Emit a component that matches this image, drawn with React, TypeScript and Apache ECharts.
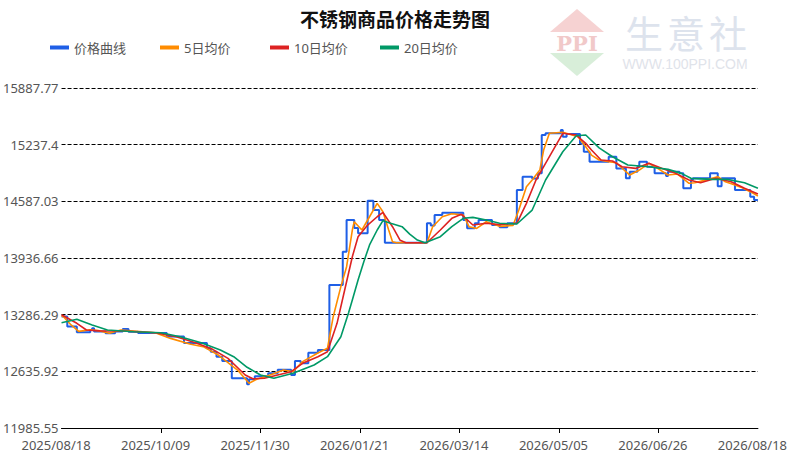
import React, { useEffect, useRef } from "react";
import * as echarts from "echarts";

// ---- data ----
const xLabels = [
  "2025/08/18",
  "2025/10/09",
  "2025/11/30",
  "2026/01/21",
  "2026/03/14",
  "2026/05/05",
  "2026/06/26",
  "2026/08/18",
];
const dayStep = 52; // days between two x labels
const yTicks = [11985.55, 12635.92, 13286.29, 13936.66, 14587.03, 15237.4, 15887.77];
const seriesNames = ["价格曲线", "5日均价", "10日均价", "20日均价"];

// price curve: [day index, price] at each change (step line)
const price: [number, number][] = [
  [0, 13265], [3, 13150], [8, 13085], [15, 13110], [16, 13130], [17, 13092],
  [23, 13073], [28, 13092], [32, 13122], [35, 13090], [40, 13076], [55, 13035],
  [64, 12960], [76, 12900], [78, 12861], [81, 12804], [84, 12755], [89, 12556],
  [97, 12487], [98, 12545], [101, 12580], [108, 12613], [113, 12655], [120, 12594],
  [122, 12755], [125, 12730], [129, 12850], [134, 12880], [140, 13627], [147, 14009],
  [149, 14372], [153, 14280], [155, 14222], [160, 14594], [163, 14487], [166, 14372],
  [169, 14112], [191, 14335], [193, 14310], [195, 14430], [199, 14456], [210, 14372],
  [212, 14277], [216, 14335], [218, 14372], [225, 14315], [229, 14289], [233, 14335],
  [238, 14717], [241, 14870], [246, 14850], [249, 14908], [251, 15348], [253, 15368],
  [261, 15406], [262, 15329], [264, 15360], [271, 15250], [273, 15156], [276, 15042],
  [286, 15099], [290, 14965], [295, 14851], [297, 14927], [301, 14984], [302, 15042],
  [306, 14984], [310, 14908], [316, 14877], [317, 14927], [323, 14908], [325, 14737],
  [329, 14832], [330, 14851], [339, 14908], [343, 14760], [345, 14851], [352, 14717],
  [360, 14640], [362, 14603], [364, 14603],
];

const ma5: [number, number][] = [
  [0, 13270], [1, 13263], [5, 13168], [9, 13095], [15, 13114], [20, 13100], [25, 13073],
  [31, 13110], [49, 13079], [57, 13014], [67, 12950], [74, 12919], [82, 12823],
  [92, 12651], [98, 12500], [102, 12544], [109, 12594], [116, 12651], [121, 12632],
  [126, 12747], [134, 12846], [139, 12900], [142, 13263], [146, 13608], [149, 13837],
  [152, 14258], [153, 14353], [157, 14258], [161, 14410], [165, 14564], [168, 14468],
  [171, 14258], [173, 14124], [175, 14112], [191, 14112], [194, 14296], [199, 14410],
  [204, 14445], [210, 14430], [213, 14296], [217, 14277], [222, 14353], [229, 14300],
  [236, 14310], [239, 14487], [243, 14755], [246, 14832], [250, 14946], [252, 15176],
  [255, 15368], [262, 15380], [270, 15329], [274, 15214], [277, 15118], [281, 15061],
  [286, 15042], [290, 15030], [295, 14927], [297, 14889], [302, 14946], [307, 15023],
  [312, 14960], [317, 14889], [322, 14900], [328, 14794], [331, 14800], [338, 14839],
  [343, 14870], [347, 14812], [352, 14774], [355, 14750], [360, 14698], [364, 14648],
];

const ma10: [number, number][] = [
  [0, 13285], [8, 13187], [13, 13110], [20, 13100], [32, 13099], [49, 13079],
  [60, 13033], [70, 12964], [79, 12888], [87, 12785], [96, 12594], [100, 12550],
  [106, 12556], [113, 12594], [120, 12632], [126, 12728], [134, 12804], [139, 12861],
  [144, 13187], [148, 13570], [152, 13951], [155, 14181], [160, 14315], [165, 14410],
  [168, 14460], [173, 14296], [177, 14140], [180, 14112], [191, 14112], [198, 14258],
  [204, 14392], [209, 14438], [215, 14315], [222, 14335], [229, 14320], [238, 14335],
  [243, 14564], [248, 14832], [253, 15023], [258, 15214], [262, 15368], [269, 15348],
  [274, 15252], [277, 15176], [282, 15061], [288, 15050], [293, 14984], [300, 14965],
  [307, 15023], [314, 14965], [321, 14908], [328, 14832], [334, 14800], [342, 14851],
  [350, 14812], [357, 14737], [364, 14671],
];

const ma20: [number, number][] = [
  [0, 13194], [8, 13233], [16, 13168], [24, 13110], [38, 13091], [52, 13079],
  [62, 13033], [73, 12964], [83, 12880], [90, 12804], [97, 12682], [104, 12594],
  [111, 12556], [121, 12613], [132, 12709], [139, 12804], [146, 13033], [150, 13305],
  [152, 13455], [155, 13684], [158, 13894], [161, 14086], [165, 14258], [168, 14365],
  [172, 14335], [178, 14296], [182, 14210], [186, 14143], [190, 14112], [198, 14181],
  [204, 14296], [210, 14392], [215, 14403], [222, 14372], [229, 14335], [238, 14327],
  [246, 14487], [253, 14832], [262, 15156], [269, 15340], [274, 15348], [281, 15200],
  [288, 15099], [296, 15004], [307, 14984], [317, 14954], [324, 14908], [329, 14851],
  [340, 14839], [348, 14839], [357, 14800], [364, 14737],
];

// ---- styles ----
const seriesColors = ["#1f5fe6", "#ff8c00", "#dd2222", "#009966"];
const FONT = "'Noto Sans', 'Noto Sans CJK SC', sans-serif";

export default function App() {
  const ref = useRef<HTMLDivElement>(null);

  useEffect(() => {
    if (!ref.current) return;
    const chart = echarts.init(ref.current, undefined, { renderer: "svg" });
    const lastDay = dayStep * (xLabels.length - 1);
    const yInterval = +(yTicks[1] - yTicks[0]).toFixed(2);
    const datasets = [price, ma5, ma10, ma20];

    chart.setOption({
      animation: false,
      backgroundColor: "#fff",
      textStyle: { fontFamily: FONT },
      title: {
        text: "不锈钢商品价格走势图",
        left: "center",
        top: 4,
        textStyle: {
          fontSize: 19,
          fontWeight: "bold",
          color: "#111",
          fontFamily: "'Noto Sans CJK SC', sans-serif",
        },
      },
      legend: seriesNames.map((name, i) => ({
        data: [{ name, icon: "rect" }],
        left: 50 + i * 110,
        top: 41,
        padding: 0,
        itemWidth: 19,
        itemHeight: 4,
        selectedMode: false,
        textStyle: { fontSize: 13, color: "#555", fontFamily: FONT },
      })),
      grid: { left: 59, right: 30, top: 88, bottom: 30, containLabel: false },
      xAxis: {
        type: "value",
        min: 0,
        max: lastDay,
        interval: dayStep,
        axisLine: { show: true, lineStyle: { color: "#000", width: 1 } },
        axisTick: {
          show: true,
          length: 5,
          lineStyle: { color: "#000" },
          customValues: xLabels.map((_, i) => i * dayStep).slice(1, -1),
        },
        axisLabel: {
          formatter: (v: number) => xLabels[Math.round(v / dayStep)] ?? "",
          color: "#555",
          fontSize: 13,
          margin: 10,
          padding: [0, 11, 0, 0],
          showMinLabel: true,
          showMaxLabel: true,
        },
        splitLine: { show: false },
      },
      yAxis: {
        type: "value",
        min: yTicks[0],
        max: yTicks[yTicks.length - 1],
        interval: yInterval,
        axisLine: { show: false },
        axisTick: { show: false },
        axisLabel: {
          formatter: (v: number) => String(Math.round(v * 100) / 100),
          color: "#555",
          fontSize: 13,
          margin: 3,
        },
        splitLine: { show: true, lineStyle: { color: "#000", type: [4, 2], width: 1 } },
      },
      series: seriesNames.map((name, i) => ({
        name,
        type: "line",
        data: datasets[i],
        step: i === 0 ? "end" : false,
        showSymbol: false,
        symbol: "none",
        lineStyle: { width: i === 0 ? 2 : 1.6, color: seriesColors[i] },
        itemStyle: { color: seriesColors[i] },
        z: 2 + i,
      })),
      graphic: [
        {
          type: "polygon",
          shape: { points: [[550, 32], [577, 9], [604, 32]] },
          style: { fill: "#f6d2d2" },
          silent: true,
        },
        {
          type: "polygon",
          shape: { points: [[550, 53], [577, 76], [604, 53]] },
          style: { fill: "#d8eed9" },
          silent: true,
        },
        {
          type: "text",
          x: 577,
          y: 43,
          style: {
            text: "PPI",
            fontSize: 21,
            fontWeight: "bold",
            fontFamily: "'DejaVu Serif', serif",
            fill: "#f1c9c9",
            align: "center",
            verticalAlign: "middle",
          },
          silent: true,
        },
        ...["生", "意", "社"].map((ch, i) => ({
          type: "text",
          x: 644 + i * 42,
          y: 31,
          style: {
            text: ch,
            fontSize: 38,
            fontFamily: "'Noto Sans CJK SC', sans-serif",
            fill: "#dde3ed",
            align: "center",
            verticalAlign: "middle",
          },
          silent: true,
        })),
        {
          type: "text",
          x: 685,
          y: 64,
          style: {
            text: "WWW.100PPI.COM",
            fontSize: 14,
            fontFamily: "'Liberation Sans', Arial, sans-serif",
            fill: "#dfe3ea",
            align: "center",
            verticalAlign: "middle",
          },
          silent: true,
        },
      ],
    });

    return () => chart.dispose();
  }, []);

  return (
    <div
      ref={ref}
      style={{ position: "fixed", left: 0, top: 0, width: 790, height: 458, background: "#fff" }}
    />
  );
}
